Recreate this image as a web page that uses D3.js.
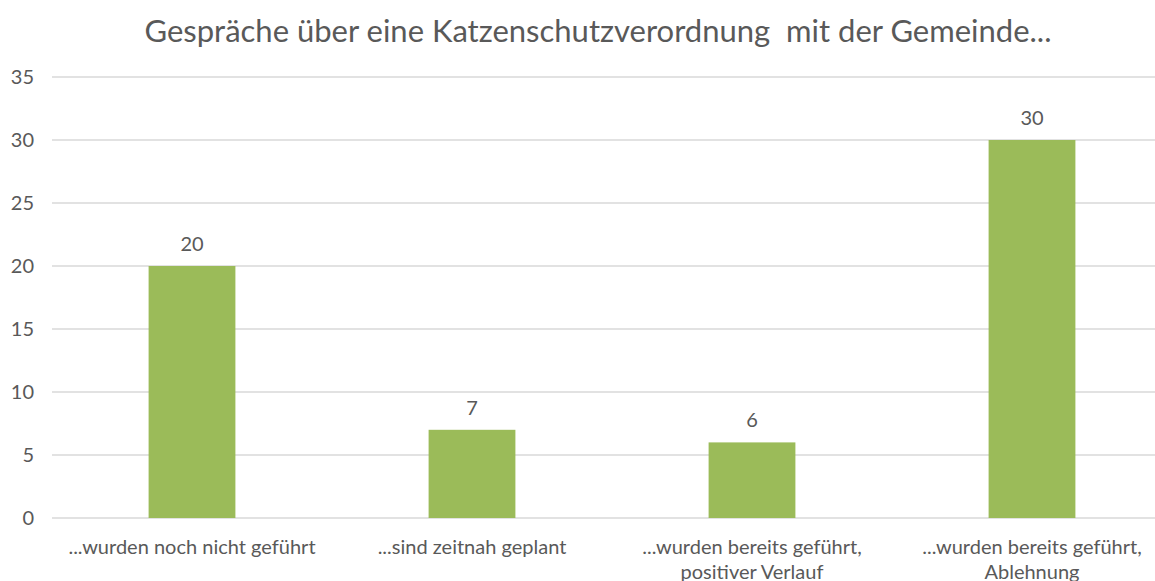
<!DOCTYPE html>
<html>
<head>
<meta charset="utf-8">
<script src="https://cdn.jsdelivr.net/npm/d3@7"></script>
<style>
  body { margin: 0; background: #fff; }
  text { font-family: Lato, "Noto Sans", sans-serif; fill: #595959; }
</style>
</head>
<body>
<div id="chart"></div>
<script>
// Daten
var categories = [
  ["...wurden noch nicht geführt"],
  ["...sind zeitnah geplant"],
  ["...wurden bereits geführt,", "positiver Verlauf"],
  ["...wurden bereits geführt,", "Ablehnung"]
];
var values = [20, 7, 6, 30];
var yTicks = [0, 5, 10, 15, 20, 25, 30, 35];
var title = "Gespräche über eine Katzenschutzverordnung\u00a0 mit der Gemeinde...";

var W = 1155, H = 581;
var padL = 52, padR = 1172, padT = 77, padB = 518;

var svg = d3.select("#chart").append("svg")
  .attr("width", W).attr("height", H);

var x = d3.scaleBand()
  .domain(d3.range(values.length))
  .range([padL, padR])
  .paddingInner(0.69).paddingOuter(0.345);

var y = d3.scaleLinear().domain([0, 35]).range([padB, padT]);

// Gitterlinien
svg.append("g").selectAll("line").data(yTicks).enter().append("line")
  .attr("x1", padL).attr("x2", W)
  .attr("y1", function(d){ return y(d); })
  .attr("y2", function(d){ return y(d); })
  .attr("stroke", "#d9d9d9").attr("stroke-width", 1.3);

// y Achse
svg.append("g").selectAll("text").data(yTicks).enter().append("text")
  .attr("x", 34).attr("y", function(d){ return y(d); })
  .attr("dy", "0.35em")
  .attr("text-anchor", "end")
  .style("font-size", "20px")
  .text(function(d){ return d; });

// Balken
svg.append("g").selectAll("rect").data(values).enter().append("rect")
  .attr("x", function(d, i){ return x(i); })
  .attr("y", function(d){ return y(d); })
  .attr("width", x.bandwidth())
  .attr("height", function(d){ return padB - y(d); })
  .attr("fill", "#9bbb59");

// Werte
svg.append("g").selectAll("text").data(values).enter().append("text")
  .attr("x", function(d, i){ return x(i) + x.bandwidth()/2; })
  .attr("y", function(d){ return y(d) - 15; })
  .attr("text-anchor", "middle")
  .style("font-size", "20px")
  .text(function(d){ return d; });

// Kategorien
var cat = svg.append("g").selectAll("text").data(categories).enter().append("text")
  .attr("x", function(d, i){ return x(i) + x.bandwidth()/2; })
  .attr("y", 554)
  .attr("text-anchor", "middle")
  .style("font-size", "20px");
cat.selectAll("tspan").data(function(d){ return d; }).enter().append("tspan")
  .attr("x", function(){ return d3.select(this.parentNode).attr("x"); })
  .attr("dy", function(d, j){ return j ? 25 : 0; })
  .text(function(d){ return d; });

// Titel
svg.append("text")
  .attr("x", 598).attr("y", 42)
  .attr("text-anchor", "middle")
  .style("font-size", "31px")
  .text(title);
</script>
</body>
</html>
